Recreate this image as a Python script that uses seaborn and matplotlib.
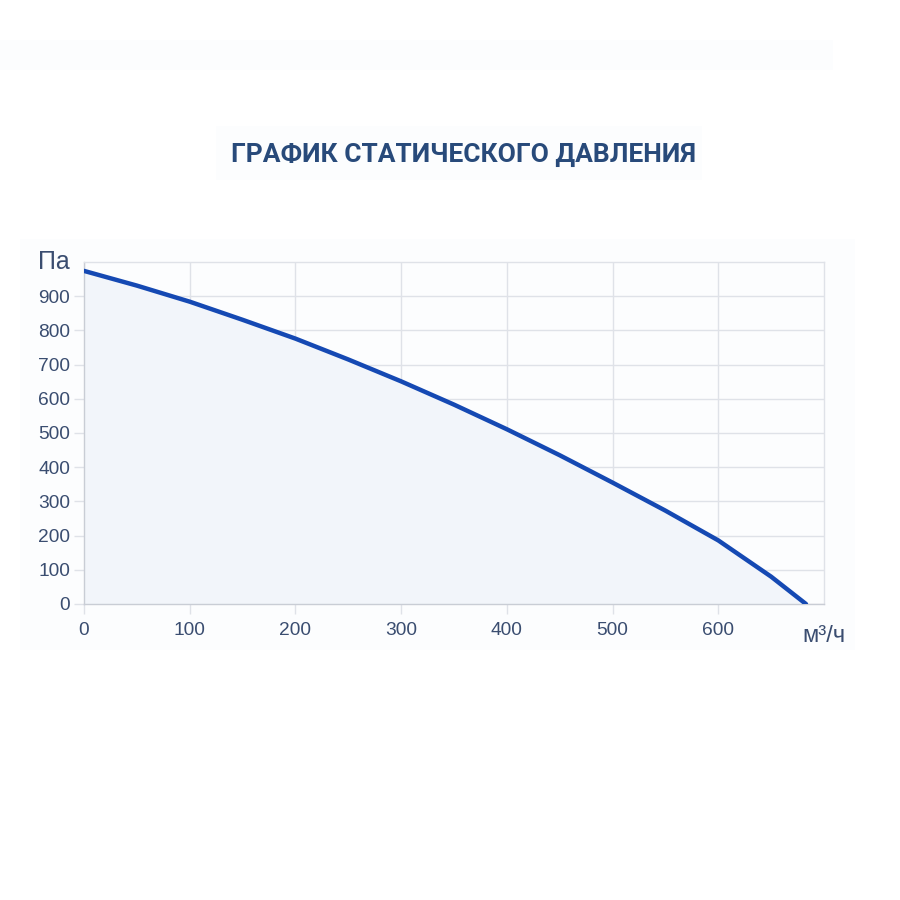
import matplotlib
matplotlib.use("Agg")
import matplotlib.pyplot as plt
import seaborn as sns
import pandas as pd

# Data
airflow = [0, 50, 100, 150, 200, 250, 300, 350, 400, 450, 500, 550, 600, 650, 683]
pressure = [974, 931, 884, 831, 776, 715, 651, 583, 511, 435, 355, 273, 186, 80, 0]
x_ticks = [0, 100, 200, 300, 400, 500, 600]
y_ticks = [0, 100, 200, 300, 400, 500, 600, 700, 800, 900]
title = "ГРАФИК СТАТИЧЕСКОГО ДАВЛЕНИЯ"
y_unit = "Па"
x_unit = "м³/ч"

df = pd.DataFrame({"airflow": airflow, "pressure": pressure})

sns.set_theme(style="white")
plt.rcParams["font.family"] = ["Liberation Sans", "DejaVu Sans"]

text_col = "#3a4d70"
grid_col = "#dfe2e8"

fig = plt.figure(figsize=(9, 9), dpi=100)
fig.patch.set_facecolor("white")

# faint background panels
for (x0, y0, w, h) in [(0.0, 0.922, 0.925, 0.033), (0.24, 0.80, 0.54, 0.06), (0.022, 0.278, 0.928, 0.456)]:
    fig.patches.append(matplotlib.patches.Rectangle((x0, y0), w, h, transform=fig.transFigure,
                                                    facecolor="#fcfdfe", edgecolor="none", zorder=-5))

ax = fig.add_axes([0.0933, 0.3289, 0.8222, 0.38])
ax.set_zorder(2)
ax.set_facecolor("none")

ax.fill_between(df["airflow"], df["pressure"], 0, color="#f2f5fa", zorder=1, linewidth=0)
sns.lineplot(data=df, x="airflow", y="pressure", ax=ax, color="#1549b3", linewidth=3.2,
             zorder=3, solid_capstyle="round", solid_joinstyle="round")

ax.set_xlim(0, 700)
ax.set_ylim(0, 1000)
ax.set_xticks(x_ticks)
ax.set_yticks(y_ticks)
ax.set_xlabel("")
ax.set_ylabel("")

ax.grid(True, color=grid_col, linewidth=1.0, zorder=0)
ax.set_axisbelow(True)
for s in ["top", "right"]:
    ax.spines[s].set_color(grid_col)
    ax.spines[s].set_linewidth(1.0)
for s in ["left", "bottom"]:
    ax.spines[s].set_color("#c9cdd5")
    ax.spines[s].set_linewidth(1.0)

ax.tick_params(axis="both", which="major", length=7, width=1.0, color=grid_col,
               labelsize=13.8, labelcolor=text_col)
ax.tick_params(axis="x", pad=6, bottom=True)
ax.tick_params(axis="y", pad=3, left=True)
ax.xaxis.set_ticks_position("bottom")
ax.yaxis.set_ticks_position("left")

ax.text(-0.019, 1.0, y_unit, transform=ax.transAxes, ha="right", va="center",
        fontsize=18, color=text_col)
ax.text(1.0, -0.095, x_unit, transform=ax.transAxes, ha="center", va="center",
        fontsize=17, color=text_col)

fig.text(0.515, 0.828, title, ha="center", va="center", fontsize=19,
         fontweight="bold", color="#284a7a", family=["Roboto", "DejaVu Sans"])

fig.savefig("out.png", dpi=100, facecolor="white")
